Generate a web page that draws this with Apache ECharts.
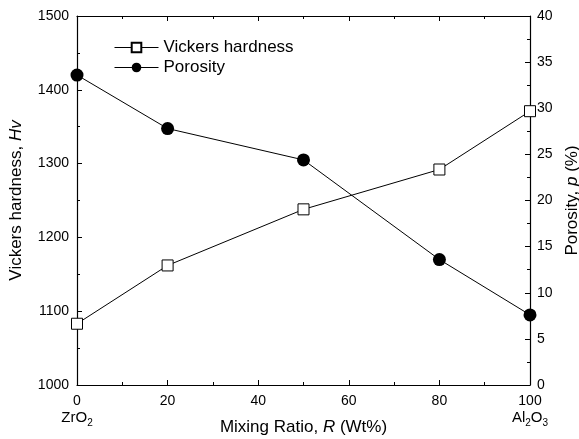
<!DOCTYPE html>
<html>
<head>
<meta charset="utf-8">
<script src="https://cdn.jsdelivr.net/npm/echarts@6/dist/echarts.min.js"></script>
<style>
  html, body { margin: 0; padding: 0; background: #fff; }
  #main { width: 579px; height: 439px; }
</style>
</head>
<body>
<div id="main"></div>
<script>
// data
var ratio = [0, 20, 50, 80, 100];
var hardness = [1083, 1162, 1238, 1292, 1371];
var porosity = [33.6, 27.8, 24.4, 13.6, 7.6];

var font = 'Liberation Sans, Arial, sans-serif';

function pairs(xs, ys) {
    return xs.map(function (x, i) { return [x, ys[i]]; });
}

var myChart = echarts.init(document.getElementById('main'));

var tickStyle = { inside: true, length: 5, lineStyle: { color: '#000', width: 1 } };
var minorStyle = { show: true, splitNumber: 2, length: 3, lineStyle: { color: '#000', width: 1 } };
var axisLine = { show: true, onZero: false, lineStyle: { color: '#000', width: 1.2 } };
var nameRich = {
    t: { fontSize: 17, color: '#000', fontFamily: font },
    i: { fontSize: 17, color: '#000', fontFamily: font, fontStyle: 'italic' }
};

var option = {
    backgroundColor: '#fff',
    animation: false,
    textStyle: { fontFamily: font },
    grid: { left: 77, right: 49, top: 16, bottom: 54, containLabel: false, outerBoundsMode: 'none' },
    legend: {
        left: 109, top: 34, orient: 'vertical', itemGap: 3,
        itemWidth: 44, itemHeight: 12,
        lineStyle: { width: 1 },
        textStyle: { fontFamily: font, fontSize: 17, color: '#000' },
        data: ['Vickers hardness', 'Porosity']
    },
    xAxis: [{
        type: 'value', min: 0, max: 100, interval: 20,
        axisLine: axisLine,
        axisTick: tickStyle,
        minorTick: minorStyle,
        splitLine: { show: false },
        axisLabel: {
            color: '#000', fontSize: 14, margin: 8,
            formatter: function (v) {
                if (v === 0) return '{n|0}\n{c|ZrO}{s|2}';
                if (v === 100) return '{n|100}\n{c|Al}{s|2}{c|O}{s|3}';
                return '{n|' + v + '}';
            },
            rich: {
                n: { fontSize: 14, color: '#000', fontFamily: font, lineHeight: 16 },
                c: { fontSize: 15, color: '#000', fontFamily: font, lineHeight: 18 },
                s: { fontSize: 10, color: '#000', fontFamily: font, padding: [10, 0, 0, 0], lineHeight: 18 }
            }
        },
        name: '{t|Mixing Ratio, }{i|R}{t| (Wt%)}',
        nameLocation: 'middle', nameGap: 34, nameMoveOverlap: false,
        nameTextStyle: { rich: nameRich }
    }, {
        type: 'value', position: 'top', min: 0, max: 100, interval: 20,
        axisLine: axisLine,
        axisTick: tickStyle,
        minorTick: minorStyle,
        axisLabel: { show: false },
        splitLine: { show: false }
    }],
    yAxis: [{
        type: 'value', min: 1000, max: 1500, interval: 100,
        axisLine: axisLine,
        axisTick: tickStyle,
        minorTick: minorStyle,
        splitLine: { show: false },
        axisLabel: { color: '#000', fontSize: 14, margin: 8, formatter: function (v) { return String(v); } },
        name: '{t|Vickers hardness, }{i|Hv}',
        nameLocation: 'middle', nameGap: 52, nameMoveOverlap: false,
        nameTextStyle: { rich: nameRich }
    }, {
        type: 'value', min: 0, max: 40, interval: 5, position: 'right',
        axisLine: axisLine,
        axisTick: tickStyle,
        minorTick: minorStyle,
        splitLine: { show: false },
        axisLabel: { color: '#000', fontSize: 14, margin: 7, formatter: function (v) { return String(v); } },
        name: '{t|Porosity, }{i|p}{t| (%)}',
        nameLocation: 'middle', nameGap: 34, nameMoveOverlap: false,
        nameTextStyle: { rich: nameRich }
    }],
    series: [{
        name: 'Vickers hardness',
        type: 'line',
        xAxisIndex: 0, yAxisIndex: 0,
        data: pairs(ratio, hardness),
        symbol: 'rect', symbolSize: 11,
        lineStyle: { color: '#000', width: 1 },
        itemStyle: { color: '#fff', borderColor: '#000', borderWidth: 1 }
    }, {
        name: 'Porosity',
        type: 'line',
        xAxisIndex: 0, yAxisIndex: 1,
        data: pairs(ratio, porosity),
        symbol: 'circle', symbolSize: 13,
        lineStyle: { color: '#000', width: 1 },
        itemStyle: { color: '#000', borderColor: '#000', borderWidth: 0 }
    }]
};

myChart.setOption(option);
</script>
</body>
</html>
